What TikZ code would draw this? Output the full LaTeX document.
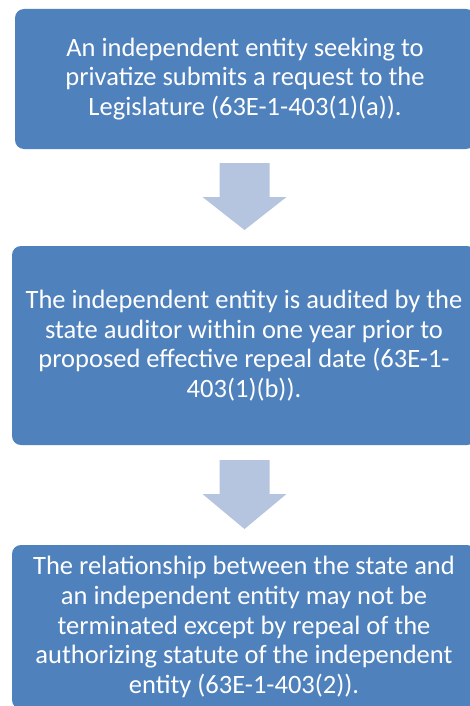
\documentclass[tikz,border=0pt]{standalone}
\usepackage{fontspec}
\setmainfont{Carlito}
\begin{document}
\begin{tikzpicture}[x=1pt, y=1pt]
\definecolor{boxcol}{HTML}{4F81BD}
\definecolor{arrowcol}{HTML}{B6C5DF}
\tikzset{
  stepbox/.style = {fill = boxcol, rounded corners = 9pt, text = white, align = center,
    font = \fontsize{26.5}{29.7}\selectfont, inner sep = 0pt},
  downarrow/.style = {fill = arrowcol}
}
\useasboundingbox (0, 0) rectangle (470, -706);
\node[stepbox, minimum width = 460pt, minimum height = 140pt] (request) at (245, -79)
  {An independent entity seeking to\\privatize submits a request to the\\Legislature (63E-1-403(1)(a)).};
\node[stepbox, minimum width = 464pt, minimum height = 199pt] (audit) at (244, -345.5)
  {The independent entity is audited by the\\state auditor within one year prior to\\proposed effective repeal date (63E-1-\\403(1)(b)).};
\node[stepbox, minimum width = 464pt, minimum height = 164pt] (repeal) at (244, -627)
  {The relationship between the state and\\an independent entity may not be\\terminated except by repeal of the\\authorizing statute of the independent\\entity (63E-1-403(2)).};
% block arrows between the steps
\coordinate (arrowA) at (244.5, -163);
\coordinate (arrowB) at (244.5, -460);
\fill[downarrow] (arrowA) ++(-25, 0) -- ++(50, 0) -- ++(0, -34) -- ++(17, 0) -- ++(-42, -33) -- ++(-42, 33) -- ++(17, 0) -- cycle;
\fill[downarrow] (arrowB) ++(-25, 0) -- ++(50, 0) -- ++(0, -34) -- ++(17, 0) -- ++(-42, -35) -- ++(-42, 35) -- ++(17, 0) -- cycle;
\end{tikzpicture}
\end{document}
